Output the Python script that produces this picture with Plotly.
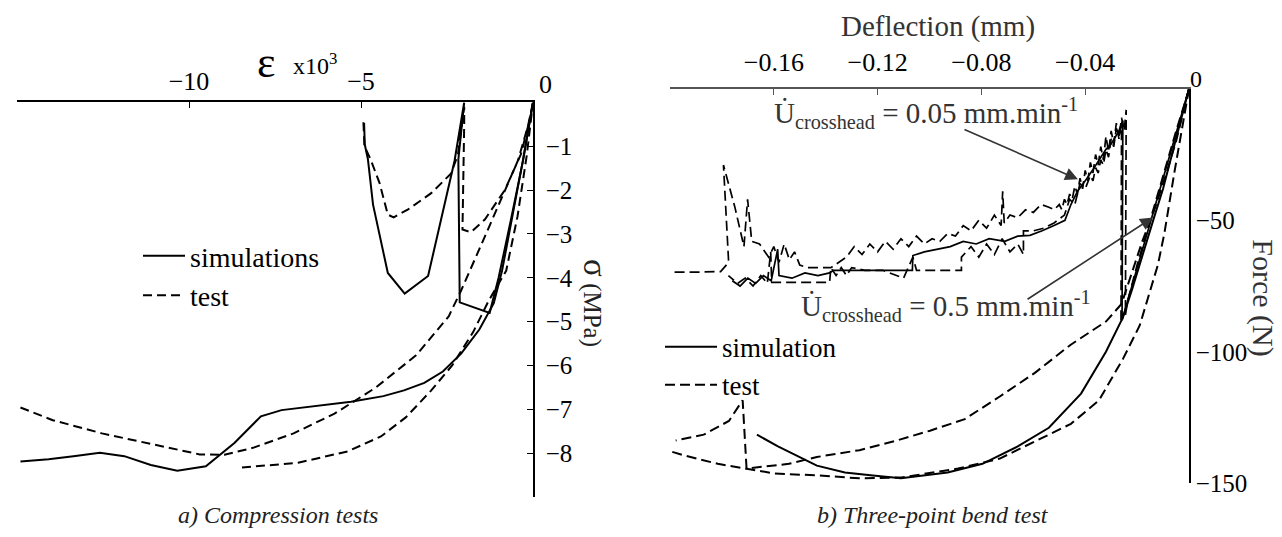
import plotly.graph_objects as go

W, H = 1282, 537
SERIF = "Liberation Serif, Times New Roman, serif"

# ---------------- a) Compression tests (strain x10^3, stress MPa) ----------------
sim_long_x = [-14.9, -14.08, -13.36, -12.59, -11.88, -11.11, -10.34, -9.51, -8.68, -7.91, -7.31,
              -6.24, -5.29, -4.35, -3.75, -3.16, -2.62, -2.09, -1.56, -1.14, -0.9, -0.6, -0.3, 0]
sim_long_y = [-8.19, -8.14, -8.07, -7.99, -8.07, -8.27, -8.4, -8.3, -7.77, -7.16, -7.02,
              -6.92, -6.83, -6.70, -6.57, -6.4, -6.14, -5.73, -5.18, -4.58, -3.84, -2.6, -1.35, 0]

sim_cycle_x = [0, -0.29, -0.64, -1.0, -1.26, -2.13, -2.17, -2.0, -2.28, -3.05, -3.73, -4.22,
               -4.65, -4.8, -4.89, -4.91]
sim_cycle_y = [0, -1.33, -2.67, -4.0, -4.8, -4.56, -1.3, 0, -1.33, -3.96, -4.36, -3.89,
               -2.33, -1.29, -0.96, -0.47]

test_upper_x = [-14.9, -13.96, -12.53, -10.87, -9.69, -8.97, -8.14, -6.96, -5.77, -4.58, -3.4,
                -2.45, -2.09, -1.5, -1.02, -0.44, -0.15, 0]
test_upper_y = [-6.96, -7.25, -7.55, -7.84, -8.03, -8.04, -7.88, -7.55, -7.1, -6.51, -5.77,
                -4.88, -4.29, -3.24, -2.36, -1.33, -0.55, 0]

test_lower_x = [-8.46, -6.83, -5.38, -4.42, -3.69, -2.97, -2.35, -1.74, -1.28, -0.78, -0.45, -0.18, 0]
test_lower_y = [-8.33, -8.22, -7.96, -7.62, -7.18, -6.58, -6.0, -5.24, -4.51, -3.84, -2.6, -1.2, 0]

test_cycle_x = [-4.93, -4.9, -4.72, -4.46, -4.22, -4.05, -3.63, -2.96, -2.38, -2.18, -2.0, -2.0,
                -2.05, -1.8, -1.4, -0.82, -0.35, -0.05]
test_cycle_y = [-0.45, -1.0, -1.3, -1.84, -2.56, -2.62, -2.44, -2.07, -1.62, -1.18, -0.1, -0.5,
                -2.9, -2.96, -2.67, -2.0, -1.18, -0.25]

strain_ticks = [-10, -5]
strain_labels = ["\u221210", "\u22125"]
stress_ticks = [-8, -7, -6, -5, -4, -3, -2, -1]
stress_labels = ["\u22128", "\u22127", "\u22126", "\u22125", "\u22124", "\u22123", "\u22122", "\u22121"]

# ---------------- b) Three-point bend test (deflection mm, force N) ----------------
# 0.5 mm/min
sim5_x = [0, -0.003, -0.006, -0.010, -0.0133, -0.018, -0.022, -0.0255, -0.032, -0.0416, -0.054,
          -0.066, -0.0796, -0.093, -0.111, -0.1218, -0.1326, -0.1434, -0.1515, -0.1584, -0.1665]
sim5_y = [0, -11.5, -23, -38, -48.4, -63.7, -76.5, -87, -100, -115.9, -128.9,
          -136, -142.6, -145.9, -148.1, -147, -145.9, -143.3, -139.3, -136, -131.5]

test5a_x = [0, -0.0013, -0.0035, -0.0055, -0.0075, -0.0095, -0.012, -0.0155, -0.019, -0.0254,
            -0.0347, -0.0455, -0.0594, -0.0729, -0.089, -0.1108, -0.127, -0.1434, -0.1596,
            -0.1705, -0.1816, -0.195, -0.2]
test5a_y = [0, -7, -19, -31, -43, -55, -67, -79, -90, -102.6,
            -118.5, -127.4, -134, -140.6, -144.4, -147.8, -148.1, -147, -146.3,
            -144.4, -142.6, -139.3, -137.8]

test5b_x = [0, -0.002, -0.005, -0.009, -0.013, -0.018, -0.022, -0.026, -0.032, -0.0457, -0.0594,
            -0.0729, -0.0864, -0.0998, -0.1135, -0.127, -0.1434, -0.1542, -0.1705, -0.172,
            -0.1773, -0.187, -0.1978]
test5b_y = [0, -8, -20, -33, -45, -58, -70, -81.8, -88.5, -97.4, -108,
            -117, -125.6, -130, -134, -137.4, -140, -142.6, -144.4, -118.4,
            -126.3, -131.5, -133.7]

# 0.05 mm/min
sim05_x = [0, -0.005, -0.010, -0.015, -0.020, -0.0245, -0.0258, -0.0255, -0.027, -0.0285, -0.030,
           -0.032, -0.0345, -0.0372, -0.040, -0.043, -0.0455, -0.0478, -0.052, -0.0566, -0.0613,
           -0.066, -0.071, -0.077, -0.082, -0.087, -0.092, -0.097, -0.102, -0.1064, -0.1066,
           -0.115, -0.125, -0.137, -0.1385, -0.143, -0.148, -0.153, -0.158, -0.1585, -0.161,
           -0.164, -0.167, -0.170, -0.173, -0.176]
sim05_y = [0, -17, -34, -51, -68, -84, -88, -12, -16, -18.5, -21,
           -23, -27, -31, -35, -39, -44, -50, -52, -54, -55.7,
           -56, -58, -57, -59, -58, -60, -61, -62, -63.4, -69,
           -69, -69, -69, -70, -71, -70, -72, -71, -61, -73,
           -71, -74, -72, -75, -73]

test05a_x = [0, -0.005, -0.010, -0.015, -0.020, -0.0235, -0.0245, -0.0242, -0.025, -0.026,
             -0.027, -0.028, -0.029, -0.030, -0.031, -0.032, -0.033, -0.034, -0.035, -0.036,
             -0.037, -0.038, -0.039, -0.040, -0.041, -0.042, -0.043, -0.044, -0.045, -0.046,
             -0.047, -0.048, -0.049, -0.050, -0.052, -0.054, -0.057, -0.060, -0.063, -0.066,
             -0.069, -0.0712, -0.0718, -0.0724, -0.075, -0.078, -0.081, -0.084, -0.087, -0.090,
             -0.093, -0.096, -0.099, -0.102, -0.105, -0.108, -0.111, -0.114, -0.117, -0.120,
             -0.123, -0.126, -0.129, -0.132, -0.135, -0.138, -0.141, -0.144, -0.147, -0.150,
             -0.152, -0.154, -0.156, -0.158, -0.160, -0.162, -0.1655, -0.1685, -0.1701,
             -0.1715, -0.175, -0.1794, -0.1774, -0.1805, -0.185, -0.190, -0.195, -0.200]
test05a_y = [0, -16, -33, -50, -67, -80, -86, -8, -16, -11,
             -19, -13, -21, -16, -24, -18, -27, -22, -29, -25,
             -32, -28, -35, -31, -38, -34, -40, -37, -42, -40,
             -44, -42, -46, -44, -46, -45, -44, -47, -46, -49,
             -48, -51, -39, -52, -48, -53, -50, -54, -52, -56,
             -55, -58, -57, -59, -56, -60, -57, -61, -58, -62,
             -59, -63, -60, -64, -66, -68, -68, -68, -68, -67,
             -62, -65, -59, -66, -60, -64, -59, -58, -42,
             -60, -45, -29, -66, -69.5, -69.7, -69.7, -69.7, -69.7]

test05b_x = [-0.0262, -0.026, -0.027, -0.028, -0.029, -0.030, -0.031, -0.032, -0.033, -0.034,
             -0.035, -0.036, -0.037, -0.038, -0.040, -0.042, -0.044, -0.046, -0.048, -0.052,
             -0.056, -0.060, -0.0638, -0.0638, -0.066, -0.069, -0.072, -0.075, -0.078, -0.081,
             -0.084, -0.0877, -0.0877, -0.095, -0.105, -0.1064, -0.110, -0.118, -0.125, -0.130,
             -0.132, -0.134, -0.136, -0.138, -0.1385, -0.150, -0.1608, -0.1612, -0.1625, -0.165,
             -0.168, -0.171, -0.174, -0.1775]
test05b_y = [-88, -14, -18, -15, -22, -19, -26, -23, -29, -27,
             -32, -30, -35, -33, -38, -36, -44, -42, -48, -51,
             -53, -54, -54, -63, -59, -62, -57, -63, -59, -64,
             -60, -64, -69, -69, -69, -64, -72, -69, -69, -68,
             -71, -68, -71, -68, -73.6, -73.6, -73.6, -62, -74, -71,
             -75, -72, -74, -71]

defl_ticks = [-0.16, -0.12, -0.08, -0.04]
defl_labels = ["\u22120.16", "\u22120.12", "\u22120.08", "\u22120.04"]
force_ticks = [-150, -100, -50]
force_labels = ["\u2212150", "\u2212100", "\u221250"]

# arrows (tail -> head) in data units of panel b
arrow_slow = dict(tail=(-0.0871, -15.2), head=(-0.0428, -34.4))
arrow_fast = dict(tail=(-0.0628, -80.4), head=(-0.0139, -48.9))

DASH_A = "9px,5px"
DASH_B = "10px,5px"

fig = go.Figure()


def add(x, y, xa, ya, dash, width, name=None, legend="legend"):
    fig.add_trace(go.Scatter(
        x=x, y=y, xaxis=xa, yaxis=ya, mode="lines",
        line=dict(color="black", width=width, dash=dash),
        name=name if name else "", showlegend=name is not None, legend=legend,
        hoverinfo="skip"))


add(sim_long_x, sim_long_y, "x", "y", "solid", 2, "simulations", "legend")
add(test_upper_x, test_upper_y, "x", "y", DASH_A, 2, "test", "legend")
add(sim_cycle_x, sim_cycle_y, "x", "y", "solid", 2)
add(test_lower_x, test_lower_y, "x", "y", DASH_A, 2)
add(test_cycle_x, test_cycle_y, "x", "y", DASH_A, 2)

add(sim5_x, sim5_y, "x2", "y2", "solid", 2, "simulation", "legend2")
add(test5a_x, test5a_y, "x2", "y2", DASH_B, 2, "test", "legend2")
add(test5b_x, test5b_y, "x2", "y2", DASH_B, 2)
add(sim05_x, sim05_y, "x2", "y2", "solid", 1.7)
add(test05a_x, test05a_y, "x2", "y2", DASH_B, 1.7)
add(test05b_x, test05b_y, "x2", "y2", DASH_B, 1.7)


def px(p):
    return p / W


def py(p):
    return 1 - p / H


tick_font = dict(family=SERIF, size=25, color="black")
tick_font_big = dict(family=SERIF, size=26, color="black")

fig.update_layout(
    width=W, height=H,
    margin=dict(l=0, r=0, t=0, b=0),
    paper_bgcolor="white", plot_bgcolor="white",
    font=dict(family=SERIF, color="black"),
    xaxis=dict(domain=[px(9), px(525)], range=[-15, 0], side="top", anchor="y",
               showline=True, linecolor="black", linewidth=1.5, ticks="inside", ticklen=6,
               tickcolor="black", tickvals=strain_ticks, ticktext=strain_labels,
               showgrid=False, zeroline=False, tickfont=tick_font_big, fixedrange=True),
    yaxis=dict(domain=[py(502), py(97)], range=[-9, 0], side="right", anchor="x",
               showline=True, linecolor="black", linewidth=1.5, ticks="inside", ticklen=6,
               tickcolor="black", tickvals=stress_ticks, ticktext=stress_labels,
               ticklabelstandoff=6,
               showgrid=False, zeroline=False, tickfont=tick_font, fixedrange=True),
    xaxis2=dict(domain=[px(662), px(1181)], range=[-0.2, 0], side="top", anchor="y2",
                showline=True, linecolor="#555555", linewidth=1.5, ticks="inside", ticklen=6,
                tickcolor="#555555", tickvals=defl_ticks, ticktext=defl_labels,
                ticklabelstandoff=6,
                showgrid=False, zeroline=False, tickfont=tick_font_big, fixedrange=True),
    yaxis2=dict(domain=[py(488), py(83)], range=[-150, 0], side="right", anchor="x2",
                showline=True, linecolor="black", linewidth=1.5, ticks="",
                tickvals=force_ticks, ticktext=force_labels, ticklabelstandoff=0,
                showgrid=False, zeroline=False, tickfont=tick_font, fixedrange=True),
    legend=dict(x=px(130), y=py(229), xanchor="left", yanchor="top", itemwidth=42,
                font=dict(family=SERIF, size=28, color="black"),
                bgcolor="rgba(0,0,0,0)", tracegroupgap=0),
    legend2=dict(x=px(652), y=py(323), xanchor="left", yanchor="top", itemwidth=52,
                 font=dict(family=SERIF, size=27, color="black"),
                 bgcolor="rgba(0,0,0,0)", tracegroupgap=0),
)

notes = [
    dict(text="\u03b5", x=px(258), y=py(56), size=44, color="black"),
    dict(text="x10<sup>3</sup>", x=px(307), y=py(58), size=24, color="black"),
    dict(text="0", x=px(537), y=py(79), size=26, color="black"),
    dict(text="<span style='font-size:33px'>\u03c3</span> (MPa)", x=px(587), y=py(303),
         size=25, color="#222222", angle=90),
    dict(text="Deflection (mm)", x=px(930), y=py(19), size=29, color="#333333"),
    dict(text="0", x=px(1188), y=py(73), size=24, color="black"),
    dict(text="Force (N)", x=px(1255), y=py(297), size=30, color="#333333", angle=90),
    dict(text="<i>a) Compression tests</i>", x=px(270), y=py(521), size=24, color="#222222"),
    dict(text="<i>b) Three-point bend test</i>", x=px(925), y=py(521), size=24, color="#222222"),
    dict(text="U\u0307<sub>crosshead</sub> = 0.05 mm.min<sup>-1</sup>", x=px(918), y=py(108),
         size=29, color="#333333"),
    dict(text="U\u0307<sub>crosshead</sub> = 0.5 mm.min<sup>-1</sup>", x=px(938), y=py(306),
         size=29, color="#333333"),
]
for n in notes:
    fig.add_annotation(text=n["text"], x=n["x"], y=n["y"], xref="paper", yref="paper",
                       showarrow=False, xanchor="center", yanchor="middle",
                       textangle=n.get("angle", 0),
                       font=dict(family=SERIF, size=n["size"], color=n["color"]))

for a in (arrow_slow, arrow_fast):
    fig.add_annotation(x=a["head"][0], y=a["head"][1], ax=a["tail"][0], ay=a["tail"][1],
                       xref="x2", yref="y2", axref="x2", ayref="y2", text="",
                       showarrow=True, arrowhead=2, arrowsize=1.6, arrowwidth=1.6,
                       arrowcolor="#333333", standoff=0)

fig.write_html("out.html")
